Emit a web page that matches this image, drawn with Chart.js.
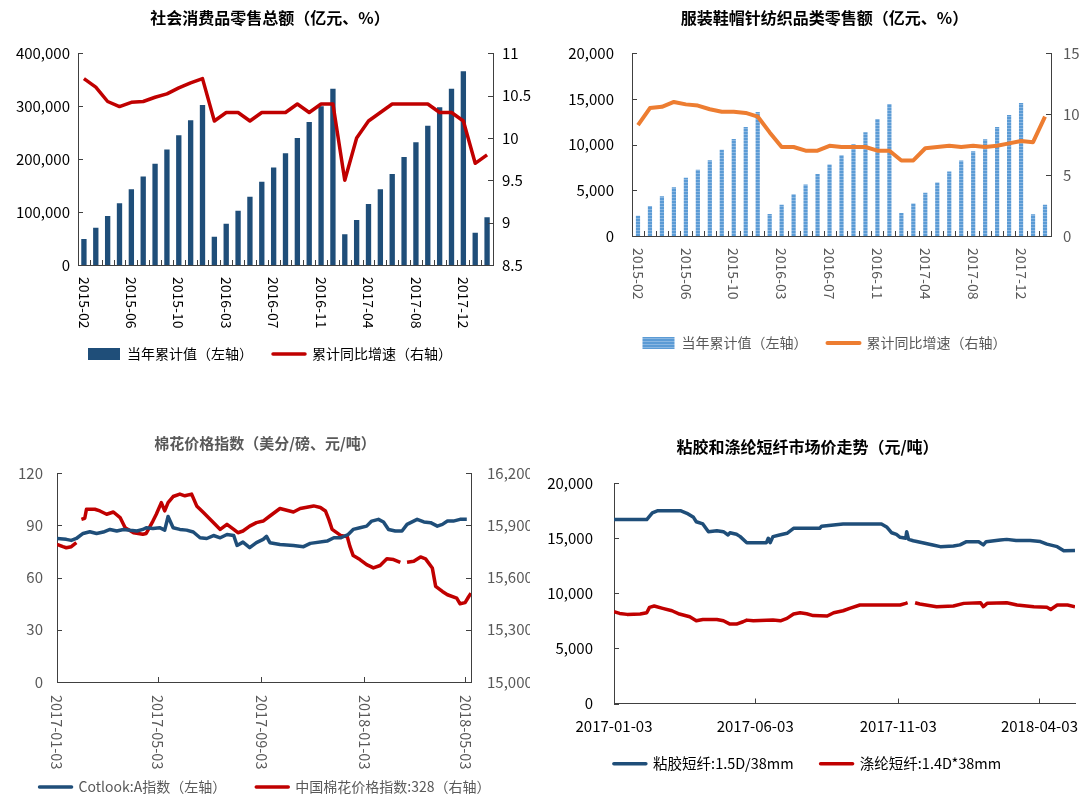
<!DOCTYPE html>
<html>
<head>
<meta charset="utf-8">
<title>纺织服装数据</title>
<script src="https://cdn.jsdelivr.net/npm/chart.js@4.4.1/dist/chart.umd.min.js"></script>
<style>
html,body{margin:0;padding:0;background:#fff;}
body{width:1089px;height:798px;overflow:hidden;position:relative;}
.panel{position:absolute;}
</style>
</head>
<body>
<div class="panel" style="left:0;top:0;width:540px;height:390px"><canvas id="retail"></canvas></div>
<div class="panel" style="left:560px;top:0;width:529px;height:390px"><canvas id="clothing"></canvas></div>
<div class="panel" style="left:0;top:420px;width:530px;height:390px"><canvas id="cotton"></canvas></div>
<div class="panel" style="left:540px;top:420px;width:540px;height:390px"><canvas id="fiber"></canvas></div>
<script>
/* months (Jan merged into Feb) */
const months = [
'2015-02','2015-03','2015-04','2015-05','2015-06','2015-07','2015-08','2015-09','2015-10','2015-11','2015-12',
'2016-02','2016-03','2016-04','2016-05','2016-06','2016-07','2016-08','2016-09','2016-10','2016-11','2016-12',
'2017-02','2017-03','2017-04','2017-05','2017-06','2017-07','2017-08','2017-09','2017-10','2017-11','2017-12',
'2018-02','2018-03'];

/* 社会消费品零售总额 */
const retailTotal = [49000,70500,92500,116500,143000,167000,191000,218000,245000,273500,302000,
53500,78000,102500,129000,157000,184000,211000,240000,270000,300000,333000,
58000,85000,115000,143000,172000,204000,232000,263000,298000,333000,366000,
61000,90000];
const retailGrowth = [10.7,10.6,10.43,10.37,10.42,10.43,10.48,10.52,10.59,10.65,10.7,
10.2,10.3,10.3,10.2,10.3,10.3,10.3,10.4,10.3,10.4,10.4,
9.5,10.0,10.2,10.3,10.4,10.4,10.4,10.4,10.3,10.3,10.2,
9.7,9.8];

/* 服装鞋帽针纺织品类 */
const clothingTotal = [2215,3270,4360,5340,6360,7240,8290,9450,10620,11930,13570,
2400,3420,4580,5640,6770,7830,8840,10040,11350,12800,14440,
2510,3560,4730,5860,7060,8260,9270,10580,11930,13240,14550,
2370,3420];
const clothingGrowth = [9.1,10.5,10.6,11.0,10.8,10.7,10.4,10.2,10.2,10.1,9.8,
8.5,7.3,7.3,7.0,7.0,7.4,7.3,7.3,7.3,7.0,7.0,
6.2,6.2,7.2,7.3,7.4,7.3,7.4,7.3,7.4,7.6,7.8,
7.7,9.8];

/* 棉花价格: days since 2017-01-03 */
const cottonBase = '2017-01-03';
const cottonTickDates = ['2017-01-03','2017-05-03','2017-09-03','2018-01-03','2018-05-03'];
const cotlookDay = [0,11,17,23,31,39,47,55,63,71,79,87,95,102,106,114,122,128,132,138,
146,154,162,170,178,186,194,202,210,214,221,229,237,245,249,253,265,281,293,301,
321,329,337,346,352,360,368,374,382,388,394,402,410,416,428,436,444,452,458,464,471,479,487];
const cotlookVal = [82.4,81.9,81.3,82.4,85.3,86.3,85.3,86.1,87.6,86.7,87.6,87.1,86.7,87.6,88.6,88.2,88.6,87.2,95.0,88.6,
87.6,87.2,86.1,82.8,82.4,84.1,82.8,84.7,84.1,78.4,80.3,77.1,80.0,81.9,83.6,80.0,79.0,78.4,77.7,79.6,
80.9,82.8,82.8,84.7,87.6,88.6,89.5,92.4,93.4,91.9,87.6,86.7,86.7,90.5,93.4,91.9,91.5,89.5,90.5,92.4,92.4,93.4,93.4];
const cnCottonDay = [0,7,11,17,23,25,29,33,35,45,51,59,67,75,81,91,102,106,114,118,
124,128,132,138,146,152,160,166,174,184,194,202,210,215,221,229,237,245,253,265,
281,289,305,313,319,323,327,337,345,348,352,360,368,376,384,392,400,408,412,416,
424,432,438,446,450,458,464,475,479,485,489,492];
const cnCottonVal = [15790,15777,15771,15777,15800,null,15934,15940,15992,15992,15982,15963,15976,15944,15886,15857,15848,15853,15924,15963,
16030,15982,16030,16065,16079,16069,16079,16011,15973,15924,15876,15905,15876,15857,15867,15895,15915,15924,15953,15996,
15976,15996,16011,16002,15982,15934,15876,15842,15834,15780,15726,15703,15674,15655,15669,15707,15703,15687,null,15687,
15693,15718,15707,15655,15549,15520,15501,15482,15449,15456,15488,15510];

/* 粘胶 / 涤纶短纤: days since 2017-01-03 */
const fiberBase = '2017-01-03';
const fiberTickDates = ['2017-01-03','2017-06-03','2017-11-03','2018-04-03'];
const viscoseDay = [0,35,41,47,71,78,85,88,95,101,110,117,122,124,131,135,142,163,165,167,
170,177,185,192,220,222,245,286,292,297,302,306,312,313,315,320,330,341,349,363,
370,377,390,395,398,413,420,430,445,456,463,474,481,493];
const viscoseVal = [16700,16700,17300,17500,17500,17270,16900,16500,16300,15600,15690,15600,15300,15500,15360,15150,14600,14600,15000,14600,
15150,15300,15450,15900,15900,16100,16300,16300,16000,15500,15350,15090,15000,15600,14900,14780,14600,14390,14240,14300,
14400,14690,14690,14400,14690,14850,14900,14800,14800,14700,14470,14240,13870,13900];
const polyDay = [0,6,14,28,35,38,43,52,62,70,81,88,95,110,117,124,131,138,142,149,
170,178,185,192,199,206,213,228,235,245,252,263,306,312,314,316,322,327,345,363,
374,392,395,399,420,431,449,463,467,474,485,493];
const polyVal = [8330,8180,8090,8120,8240,8730,8850,8640,8420,8120,7870,7510,7630,7630,7510,7210,7210,7420,7570,7510,
7570,7510,7730,8120,8240,8150,7980,7940,8240,8420,8640,8940,8940,9090,9150,null,9150,9030,8790,8850,
9090,9150,8790,9090,9150,8940,8790,8730,8540,8940,8940,8790];

const FONT = '"Noto Sans CJK SC", "Noto Sans", sans-serif';
Chart.defaults.font.family = FONT;
Chart.defaults.animation = false;

const DAY = 86400000;
function dayOf(str, base) { return (Date.parse(str) - Date.parse(base)) / DAY; }
function pts(days, vals) { return days.map((d, i) => ({x: d, y: vals[i]})); }

/* inward tick marks + x labels drawn by hand (clockwise rotation) */
function decor(cfg) {
  return {
    id: 'decor',
    afterDraw(chart) {
      const ctx = chart.ctx, a = chart.chartArea, xs = chart.scales.x;
      ctx.save();
      ctx.strokeStyle = cfg.axis;
      ctx.lineWidth = 1;
      ctx.beginPath();
      Object.values(chart.scales).forEach(s => {
        if (s.axis !== 'y') return;
        s.ticks.forEach((t, i) => {
          const py = Math.round(s.getPixelForTick(i)) + 0.5;
          if (s.position === 'left') { ctx.moveTo(a.left, py); ctx.lineTo(a.left + 5, py); }
          else { ctx.moveTo(a.right - 5, py); ctx.lineTo(a.right, py); }
        });
      });
      cfg.xTicks(xs).forEach(px => {
        const p = Math.round(px) + 0.5;
        ctx.moveTo(p, a.bottom); ctx.lineTo(p, a.bottom - 5);
      });
      ctx.stroke();
      ctx.fillStyle = cfg.color;
      ctx.font = cfg.font;
      cfg.xLabels(xs).forEach(([px, text]) => {
        if (cfg.rotate) {
          ctx.save();
          ctx.translate(px, a.bottom + cfg.gap);
          ctx.rotate(Math.PI / 2);
          ctx.textAlign = 'left'; ctx.textBaseline = 'middle';
          ctx.fillText(text, 0, 0);
          ctx.restore();
        } else {
          ctx.textAlign = 'center'; ctx.textBaseline = 'middle';
          ctx.fillText(text, px, a.bottom + cfg.gap);
        }
      });
      ctx.restore();
    }
  };
}

const catTicks = s => { const n = s.getLabels().length, out = []; for (let j = 0; j <= n; j++) out.push(s.left + j * s.width / n); return out; };
const catLabels = s => s.getLabels().map((t, i) => [s.getPixelForValue(i), t]).filter((_, i) => i % 4 === 0);

function yAxis(pos, min, max, step, color, width, pad, fmt, axisColor) {
  return {
    position: pos, min: min, max: max,
    ticks: {stepSize: step, color: color, font: {size: 15}, padding: pad, callback: fmt},
    grid: {display: false, drawTicks: false},
    border: {display: true, color: axisColor, width: 1},
    afterFit(s) { s.width = width; }
  };
}
function catX(h, axisColor) {
  return {
    type: 'category', offset: true,
    grid: {display: false, drawTicks: false, offset: true},
    ticks: {display: false, autoSkip: false},
    border: {display: true, color: axisColor, width: 1},
    afterFit(s) { s.height = h; }
  };
}
function linX(max, h, tickDays, axisColor) {
  return {
    type: 'linear', min: 0, max: max,
    grid: {display: false, drawTicks: false},
    ticks: {display: false},
    border: {display: true, color: axisColor, width: 1},
    afterBuildTicks(s) { s.ticks = tickDays.map(v => ({value: v})); },
    afterFit(s) { s.height = h; }
  };
}
function legend(color, size, padding) {
  return {
    position: 'bottom',
    labels: {
      color: color, font: {size: size}, padding: padding,
      usePointStyle: true, pointStyleWidth: 32, boxHeight: 12,
      generateLabels(chart) {
        const items = Chart.defaults.plugins.legend.labels.generateLabels(chart);
        items.forEach(it => {
          const ds = chart.data.datasets[it.datasetIndex];
          if (ds.type === 'bar') { it.pointStyle = 'rect'; it.lineWidth = 0; }
          else { it.pointStyle = 'line'; it.lineCap = 'round'; }
        });
        return items.sort((p, q) => p.datasetIndex - q.datasetIndex);
      }
    }
  };
}
function title(text, color, size, top, bottom) {
  return {display: true, text: text, color: color, font: {size: size, weight: 'bold'}, padding: {top: top, bottom: bottom}};
}
const fmtThousands = v => v.toLocaleString('en-US');
const fmtPlain = v => String(v);

function stripes() {
  const c = document.createElement('canvas');
  c.width = 3; c.height = 3;
  const g = c.getContext('2d');
  g.fillStyle = '#5B9BD5'; g.fillRect(0, 0, 3, 3);
  g.fillStyle = '#8AB7E2'; g.fillRect(0, 2, 3, 1);
  return g.createPattern(c, 'repeat');
}

/* 1. 社会消费品零售总额 */
const AX1 = '#404040';
new Chart(document.getElementById('retail'), {
  data: {
    labels: months,
    datasets: [
      {type: 'bar', label: '当年累计值（左轴）', data: retailTotal, yAxisID: 'y', backgroundColor: '#1F4E79',
       barPercentage: 0.45, categoryPercentage: 1, order: 1},
      {type: 'line', label: '累计同比增速（右轴）', data: retailGrowth, yAxisID: 'y1', borderColor: '#C00000',
       backgroundColor: '#C00000', borderWidth: 3.5, pointRadius: 0, tension: 0, order: 0, borderJoinStyle: 'round'}
    ]
  },
  options: {
    responsive: true, maintainAspectRatio: false, devicePixelRatio: 1, events: [],
    layout: {padding: {top: 0, bottom: 19, left: 0, right: 0}},
    plugins: {
      title: title('社会消费品零售总额（亿元、%）', '#000', 16, 8, 26),
      legend: legend('#000', 14, 20),
      tooltip: {enabled: false}
    },
    scales: {
      x: catX(62, AX1),
      y: yAxis('left', 0, 400000, 100000, '#000', 78, 8, fmtThousands, AX1),
      y1: yAxis('right', 8.5, 11, 0.5, '#000', 47, 9, fmtPlain, AX1)
    }
  },
  plugins: [decor({axis: AX1, color: '#000', font: '14px ' + FONT, gap: 12, rotate: true, xTicks: catTicks, xLabels: catLabels})]
});

/* 2. 服装鞋帽针纺织品类零售额 */
const AX2 = '#404040';
new Chart(document.getElementById('clothing'), {
  data: {
    labels: months,
    datasets: [
      {type: 'bar', label: '当年累计值（左轴）', data: clothingTotal, yAxisID: 'y', backgroundColor: stripes(),
       barPercentage: 0.35, categoryPercentage: 1, order: 1},
      {type: 'line', label: '累计同比增速（右轴）', data: clothingGrowth, yAxisID: 'y1', borderColor: '#ED7D31',
       backgroundColor: '#ED7D31', borderWidth: 4, pointRadius: 0, tension: 0, order: 0, borderJoinStyle: 'round'}
    ]
  },
  options: {
    responsive: true, maintainAspectRatio: false, devicePixelRatio: 1, events: [],
    layout: {padding: {top: 0, bottom: 30, left: 0, right: 0}},
    plugins: {
      title: title('服装鞋帽针纺织品类零售额（亿元、%）', '#000', 16, 8, 26),
      legend: legend('#595959', 14, 20),
      tooltip: {enabled: false}
    },
    scales: {
      x: catX(80, AX2),
      y: yAxis('left', 0, 20000, 5000, '#000', 72, 18, fmtThousands, AX2),
      y1: yAxis('right', 0, 15, 5, '#595959', 38, 12, fmtPlain, AX2)
    }
  },
  plugins: [decor({axis: AX2, color: '#595959', font: '14px ' + FONT, gap: 12, rotate: true, xTicks: catTicks, xLabels: catLabels})]
});

/* 3. 棉花价格指数 */
const AX3 = '#404040';
const cottonTicks = cottonTickDates.map(d => dayOf(d, cottonBase));
new Chart(document.getElementById('cotton'), {
  type: 'line',
  data: {
    datasets: [
      {label: 'Cotlook:A指数（左轴）', data: pts(cotlookDay, cotlookVal), yAxisID: 'y', borderColor: '#1F4E79',
       backgroundColor: '#1F4E79', borderWidth: 3.5, pointRadius: 0, tension: 0, borderJoinStyle: 'round'},
      {label: '中国棉花价格指数:328（右轴）', data: pts(cnCottonDay, cnCottonVal), yAxisID: 'y1', borderColor: '#C00000',
       backgroundColor: '#C00000', borderWidth: 3.5, pointRadius: 0, tension: 0, borderJoinStyle: 'round'}
    ]
  },
  options: {
    responsive: true, maintainAspectRatio: false, devicePixelRatio: 1, events: [],
    layout: {padding: {top: 0, bottom: 6, left: 0, right: 0}},
    plugins: {
      title: title('棉花价格指数（美分/磅、元/吨）', '#595959', 15, 14, 21),
      legend: legend('#595959', 14, 30),
      tooltip: {enabled: false}
    },
    scales: {
      x: linX(492, 68, cottonTicks, AX3),
      y: yAxis('left', 0, 120, 30, '#595959', 57, 14, fmtPlain, AX3),
      y1: yAxis('right', 15000, 16200, 300, '#595959', 59, 16, fmtThousands, AX3)
    }
  },
  plugins: [decor({axis: AX3, color: '#595959', font: '14.5px ' + FONT, gap: 13, rotate: true,
    xTicks: s => cottonTicks.map(v => s.getPixelForValue(v)),
    xLabels: s => cottonTickDates.map(d => [s.getPixelForValue(dayOf(d, cottonBase)), d])})]
});

/* 4. 粘胶和涤纶短纤市场价走势 */
const AX4 = '#404040';
const fiberTicks = fiberTickDates.map(d => dayOf(d, fiberBase));
new Chart(document.getElementById('fiber'), {
  type: 'line',
  data: {
    datasets: [
      {label: '粘胶短纤:1.5D/38mm', data: pts(viscoseDay, viscoseVal), borderColor: '#1F4E79', backgroundColor: '#1F4E79',
       borderWidth: 3.5, pointRadius: 0, tension: 0, borderJoinStyle: 'round'},
      {label: '涤纶短纤:1.4D*38mm', data: pts(polyDay, polyVal), borderColor: '#C00000', backgroundColor: '#C00000',
       borderWidth: 3.5, pointRadius: 0, tension: 0, borderJoinStyle: 'round'}
    ]
  },
  options: {
    responsive: true, maintainAspectRatio: false, devicePixelRatio: 1, events: [],
    layout: {padding: {top: 0, bottom: 29, left: 0, right: 5}},
    plugins: {
      title: title('粘胶和涤纶短纤市场价走势（元/吨）', '#000', 16, 17, 27),
      legend: legend('#000', 14.5, 27),
      tooltip: {enabled: false}
    },
    scales: {
      x: linX(493, 26, fiberTicks, AX4),
      y: yAxis('left', 0, 20000, 5000, '#000', 74, 21, fmtThousands, AX4)
    }
  },
  plugins: [decor({axis: AX4, color: '#000', font: '15px ' + FONT, gap: 23, rotate: false,
    xTicks: s => fiberTicks.map(v => s.getPixelForValue(v)),
    xLabels: s => fiberTickDates.map(d => [s.getPixelForValue(dayOf(d, fiberBase)), d])})]
});
</script>
</body>
</html>
